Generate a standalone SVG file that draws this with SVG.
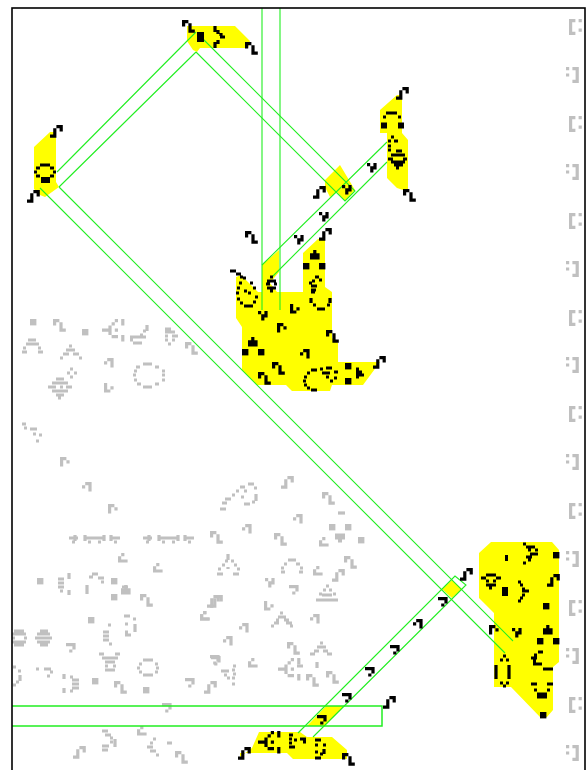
<svg xmlns="http://www.w3.org/2000/svg" xmlns:xlink="http://www.w3.org/1999/xlink" width="587" height="770" viewBox="0 0 587 770">
<style>
.c{fill:none;stroke-width:3.2}
.gray{stroke:#c0c0c0}
.blk{stroke:#000}
.yel{fill:#ff0}
.grn{fill:none;stroke:#2e2;stroke-width:1.1}
</style>
<defs>
<path id="z" d="M0 1.6h6.4M0 4.8h3.2M6.4 4.8h3.2M6.4 8h3.2M6.4 11.2h6.4"/>
<path id="m" d="M6.4 1.6h6.4M3.2 4.8h3.2M9.6 4.8h3.2M3.2 8h3.2M0 11.2h6.4"/>
<path id="y" d="M0 1.6h3.2M6.4 1.6h3.2M3.2 4.8h6.4M3.2 8h3.2"/>
<path id="g" d="M0 1.6h6.4M0 4.8h3.2M6.4 4.8h3.2M0 8h3.2"/>
<path id="h" d="M0 1.6h9.6M6.4 4.8h3.2M3.2 8h3.2"/>
<path id="k" d="M3.2 1.6h3.2M0 4.8h3.2M0 8h9.6"/>
<path id="l" d="M0 1.6h3.2M0 4.8h3.2M6.4 4.8h3.2M0 8h6.4"/>
<path id="n" d="M3.2 1.6h6.4M0 4.8h3.2M6.4 4.8h3.2M6.4 8h3.2"/>
<rect id="b" width="6.4" height="6.4" stroke="none"/>
<path id="t" d="M3.2 1.6h3.2M0 4.8h9.6M0 8h9.6"/>
<path id="a" d="M12.8 1.6h3.2M19.2 1.6h3.2M19.2 4.8h3.2M9.6 4.8h3.2M6.4 8h3.2M0 11.2h9.6M6.4 14.4h3.2M12.8 11.2h3.2M9.6 17.6h6.4M19.2 17.6h3.2M19.2 20.8h3.2"/>
<path id="C" d="M0 1.6h6.4M9.6 1.6h3.2M0 4.8h3.2M0 8h3.2M0 11.2h3.2M9.6 11.2h3.2M0 14.4h6.4"/>
<path id="J" d="M0 1.6h3.2M6.4 1.6h6.4M9.6 4.8h3.2M0 8h3.2M9.6 8h3.2M9.6 11.2h3.2M6.4 14.4h6.4"/>
</defs>
<rect width="587" height="770" fill="#fff"/>
<g id="yellow" class="yel">
<path d="M34 147L50 132H56V182L59 187L45 197L40 195L34 189Z"/>
<path d="M187 26H235L250 41L248 48H200L197 52L193 50L187 41Z"/>
<path d="M380 110L397 95H402V133L408 140V190H403L397 188L387 178V133H380Z"/>
<path d="M325 180L340 165L355 190L345 201L337 192L330 197L325 187Z"/>
<path d="M236 318V277L241 275L258 292H262V265L279 250V272L270 283L277 292H303V253L318 239H325V287L332 292V338L338 343V362H380L363 385H332L330 391H292L286 385H257L242 370V327Z"/>
<path d="M479 553L491 542H552L559 550V662L553 667V710L547 717H540L511 687H494V613L479 598Z"/>
<path d="M442 589L452 580L462 589L452 598Z"/>
<path d="M240 757L252 748L259 732H300L307 737H332L347 750V759H293L287 753H240Z"/>
<path d="M307 726L326 706H344L325 726Z"/>
</g>
<g id="gray" class="c gray">
<use href="#b" x="30" y="319" fill="#c0c0c0"/><use href="#z" x="53" y="319"/><use href="#b" x="82" y="329" fill="#c0c0c0"/><use href="#a" x="102" y="319"/>
<path d="M147 325v6M143 331h3M140 335h3M130 337h16M130 340h3M133 343h9"/>
<path d="M165 329h6M165 332h10M165 336h3M172 336h6M165 340h3M172 340h3M168 344h3"/>
<use href="#z" x="185" y="342"/>
<path d="M28 340h8M26 344h13M23 348h3M38 348h3M22 352h5M38 352h5"/>
<path d="M69 346h3M66 350h9M63 354h6M73 354h6M60 358h3M79 358h3"/>
<use href="#n" x="104" y="358"/><use href="#l" x="104" y="383"/>
<path d="M70 369h3M67 373h3M74 373h3M70 377h3M56 379h8M52 383h16M48 387h8M60 387h3M66 387h6M52 391h16M56 395h8M58 398h3"/>
<path d="M143 364h9M136 367h4M155 367h4M134 371h3M162 371h3M133 375h3M162 375h3M134 380h3M162 380h3M137 384h4M155 384h4M143 387h9"/>
<path d="M22 424h4M24 428h3M30 429h7M33 434h3M39 435h3M36 441h3"/>
<use href="#g" x="60" y="457"/><use href="#n" x="82" y="482"/><use href="#g" x="108" y="504"/>
<path d="M69 538h9M85 538h19M111 538h9M75 535v6M85 535v6M104 535v6M111 535v6M143 538h9M159 538h19M185 538h9M149 535v6M159 535v6M178 535v6M185 535v6M72 542h3M88 542h3M98 542h3M114 542h3M146 542h3M162 542h3M172 542h3M188 542h3"/>
<use href="#k" x="118" y="553"/><use href="#k" x="153" y="563"/>
<use href="#b" x="37" y="578" fill="#c0c0c0"/>
<path d="M58 579h6M58 583h6M58 587h6M60 591h3M69 573v6M69 590v5M87 585v9M92 574h6M89 577h4M98 578h6M101 582h3M122 587h6M122 591h5M125 594h0"/>
<use href="#b" x="111" y="578" fill="#c0c0c0"/><use href="#b" x="111" y="594" fill="#c0c0c0"/>
<use href="#t" x="121" y="585"/><use href="#z" x="140" y="594"/>
<use href="#k" x="200" y="611"/><use href="#m" x="207" y="595"/><use href="#b" x="88" y="617" fill="#c0c0c0"/>
<path d="M124 616h6M133 619h3M135 624v8M125 624h3M125 632h3M125 635h6M108 625h3M103 632h6M103 636h6M103 640h6M109 644h3"/>
<path d="M12 634h14M12 638h3M24 638h3M12 642h14M14 631h10M14 645h10"/>
<path d="M40 631h8M37 634h13M35 638h17M37 642h13M40 645h8"/>
<use href="#h" x="66" y="643"/>
<path d="M99 654h5M115 654h5M102 658h16M105 662h10M105 666h3M113 666h3M105 670h10"/>
<path d="M143 660h10M139 664h3M155 664h3M137 668h3M156 668h3M139 672h3M155 672h3M143 675h10"/>
<path d="M13 667h3M18 671h3M20 675v6M16 682h3M13 685h3M36 669h3M44 669h7M50 672h3M47 676h3"/>
<path d="M64 674v5M70 677h3M72 680h7M72 684h7M72 688h7M70 691h3M64 688v5"/>
<use href="#b" x="92" y="678" fill="#c0c0c0"/><use href="#z" x="114" y="681"/><use href="#b" x="143" y="687" fill="#c0c0c0"/>
<use href="#h" x="185" y="678"/><use href="#m" x="204" y="681"/><use href="#h" x="211" y="656"/>
<use href="#h" x="162" y="703"/><use href="#k" x="137" y="726"/>
<path d="M102 731h6M105 735h6M110 738h3M115 739v8M110 742h3M102 746h7M102 750h6"/>
<use href="#m" x="73" y="746"/>
<path d="M153 739h3M150 743h3M147 747h6M150 751h6M156 755h3M167 743h5"/>
<use href="#z" x="175" y="751"/>
<use href="#m" x="281" y="476"/>
<path d="M248 484h6M240 487h5M254 488h3M236 491h3M244 491h3M256 494v7M232 495h3M241 497h3M225 499h6M222 503h5M252 502h3M244 504h6M220 509h6"/>
<use href="#z" x="322" y="492"/><path d="M338 513h7"/>
<use href="#n" x="293" y="514"/><use href="#b" x="329" y="524" fill="#c0c0c0"/><use href="#b" x="345" y="524" fill="#c0c0c0"/>
<path d="M335 535h10M335 538h10M338 541h4"/><use href="#k" x="319" y="537"/><use href="#b" x="358" y="537" fill="#c0c0c0"/>
<use href="#z" x="210" y="531"/><use href="#n" x="242" y="524"/><use href="#z" x="274" y="533"/>
<path d="M228 554v6M225 561h3M231 561h3M222 565h3M234 565h3M228 567v2M218 569h3M237 569h3M217 574h6M233 574h6"/>
<path d="M288 560h8M284 564h3M296 564h4M281 568h3M300 568h3M281 572h4M299 572h4"/>
<use href="#k" x="313" y="566"/><use href="#z" x="344" y="556"/><use href="#m" x="332" y="569"/>
<use href="#y" x="265" y="578"/><use href="#h" x="289" y="585"/>
<path d="M326 586h3M323 590h3M329 590h3M319 594h3M333 594h3M322 595h10M316 600h22"/>
<use href="#m" x="210" y="595"/><use href="#k" x="200" y="611"/><use href="#l" x="264" y="601"/>
<path d="M280 613h3M278 617h8M276 620h3M284 620h5M274 623h5M286 623h6M271 626h3M290 626h3"/>
<use href="#n" x="310" y="614"/><use href="#n" x="239" y="623"/><use href="#n" x="223" y="636"/><use href="#z" x="287" y="642"/>
<path d="M320 643h3M317 647h9M314 651h5M323 651h5M310 654h5M327 654h5"/>
<use href="#h" x="210" y="655"/><use href="#k" x="248" y="658"/>
<path d="M233 666h3M232 670h3M221 671h8M224 675h3M233 674h3M227 678h3M232 678h3M232 684h3"/>
<use href="#a" x="278" y="658"/><path d="M297 666h6M317 662v6"/><use href="#z" x="306" y="674"/><use href="#z" x="326" y="671"/>
<use href="#C" x="569" y="19"/><use href="#J" x="566" y="67"/><use href="#C" x="569" y="116"/><use href="#J" x="566" y="164"/><use href="#C" x="569" y="213"/><use href="#J" x="566" y="261"/><use href="#C" x="569" y="310"/><use href="#J" x="566" y="357"/><use href="#C" x="569" y="406"/><use href="#J" x="566" y="454"/><use href="#C" x="569" y="503"/><use href="#J" x="566" y="551"/><use href="#C" x="569" y="600"/><use href="#J" x="566" y="648"/><use href="#C" x="569" y="697"/><use href="#J" x="566" y="745"/>
</g>
<g id="connectors" class="grn">
<path d="M57 172L196 32M59 187L196 52M40 188L505 653M59 187L513 641"/>
<path d="M203 39L355 191L345 201L196 52"/>
<path d="M262 8V310M280 8V310"/>
<path d="M262 265L387 142M272 277L387 162"/>
<path d="M298 733L455 576L466 585L313 737"/>
<path d="M12 706H382V726H12" stroke-width="1.5"/>
</g>
<g id="black" class="c blk">
<use href="#z" x="182" y="20"/><rect x="197" y="32" width="7" height="10" fill="#000" stroke="none"/>
<path d="M215 26v6M218 30v4M221 33v3M225 37h-5M218 40v4M215 42v6"/>
<use href="#z" x="245" y="42"/><use href="#m" x="50" y="125"/>
<path d="M40 165h10M36 168h4M50 168h4M34 172h3M53 172h3M36 176h4M50 176h4"/><rect x="41" y="177" width="9" height="6" fill="#000" stroke="none"/>
<use href="#m" x="27" y="190"/><use href="#z" x="245" y="231"/>
<use href="#m" x="396" y="87"/>
<path d="M386 113h11M383 117h3M398 117h3M381 122h0M381 124h6M381 127h6M398 124h6M398 127h6"/>
<path d="M391 137h3M388 141h3M394 141h4M388 146h3M388 150h3M396 151h6M391 155h14M388 159h5M403 159h4M391 162h14M394 165h9M396 168h3"/>
<use href="#z" x="403" y="189"/><use href="#y" x="367" y="163"/><use href="#m" x="313" y="186"/><use href="#y" x="342" y="185"/><use href="#y" x="319" y="212"/><use href="#y" x="294" y="235"/><use href="#m" x="319" y="228"/>
<path d="M230 271h6M236 274h5M240 277h3"/>
<path d="M270 277h3M267 281h9M266 284h4M274 284h3M267 288h9M270 291h3"/>
<path d="M243 278h3M239 283h3M250 283h3M237 288h3M244 291h3M253 288h3M236 293h3M248 293h3M237 299h3M255 297h3M240 303h3M253 302h3M244 306h9"/>
<use href="#t" x="310" y="250"/><use href="#b" x="303" y="263" fill="#000"/><use href="#b" x="319" y="263" fill="#000"/>
<path d="M315 277h4M312 281h3M319 280h3M309 283h3M311 286h6M311 290h5M311 292h4"/>
<path d="M311 298v5M330 298v5M313 305h3M327 305h3M317 309h8"/>
<use href="#y" x="258" y="311"/><use href="#l" x="290" y="304"/><use href="#g" x="277" y="323"/><use href="#z" x="326" y="330"/>
<use href="#t" x="248" y="337"/><use href="#b" x="242" y="349" fill="#000"/><use href="#b" x="258" y="349" fill="#000"/>
<use href="#n" x="300" y="349"/><use href="#z" x="272" y="362"/><use href="#z" x="258" y="372"/>
<path d="M311 370h6M307 373h3M304 377h3M303 381h3M304 385h3M307 388h3M311 390h6"/>
<path d="M320 369h3M326 368h6M322 373h8M334 372h4M326 377h3M334 378h3M330 381h3"/>
<use href="#b" x="345" y="363" fill="#000"/><use href="#b" x="345" y="378" fill="#000"/>
<path d="M356 369h3M356 372h6M356 375h8M356 377h3" />
<use href="#m" x="373" y="356"/>
<use href="#m" x="238" y="747"/><use href="#a" x="258" y="731"/>
<path d="M289 735h4M289 739h3M289 743h3M289 747h6M294 740h3M300 739h6M303 742h3"/>
<path d="M315 740h6M323 745h3M324 749v5M320 754h3M315 758h6M315 745h3M315 752h3"/>
<use href="#z" x="342" y="753"/>
<use href="#h" x="317" y="715"/><use href="#h" x="342" y="693"/><use href="#h" x="365" y="667"/><use href="#h" x="390" y="645"/><use href="#m" x="383" y="696"/>
<use href="#n" x="413" y="619"/><use href="#h" x="438" y="597"/><use href="#m" x="460" y="568"/>
<path d="M486 575h10M481 578h5M496 578h5M486 581h3M493 581h3M486 585h10M489 588h3"/>
<rect x="502" y="587" width="6" height="9" fill="#000" stroke="none"/>
<path d="M518 582h3M520 585h3M522 589h3M522 591h7M522 595h3M520 598h3M518 601h3"/>
<path d="M505 558h3" stroke-width="6"/>
<path d="M523 544h3M526 547h9M528 550h3M535 550h3M530 554h8M526 557h6M523 563h3M528 560h3"/>
<use href="#b" x="553" y="552" fill="#000"/><use href="#m" x="547" y="574"/><use href="#b" x="543" y="603" fill="#000"/>
<use href="#g" x="489" y="625"/><use href="#y" x="512" y="628"/>
<use href="#t" x="543" y="625"/><use href="#b" x="537" y="638" fill="#000"/><use href="#b" x="553" y="638" fill="#000"/>
<path d="M538 652h5M534 655h3M531 658h6M533 661h3M533 664h9M543 669h10"/>
<path d="M503 656h3M500 660h3M506 660h3M496 665v14M509 665v14M500 683h3M506 683h3M503 686h3"/>
<path d="M531 684h6M547 684h6M534 690h3M547 690h3M537 694h10M537 697h10"/>
<use href="#b" x="540" y="712" fill="#000"/>
</g>
<rect x="12" y="8" width="573" height="780" fill="none" stroke="#000" stroke-width="1.6"/>
</svg>
